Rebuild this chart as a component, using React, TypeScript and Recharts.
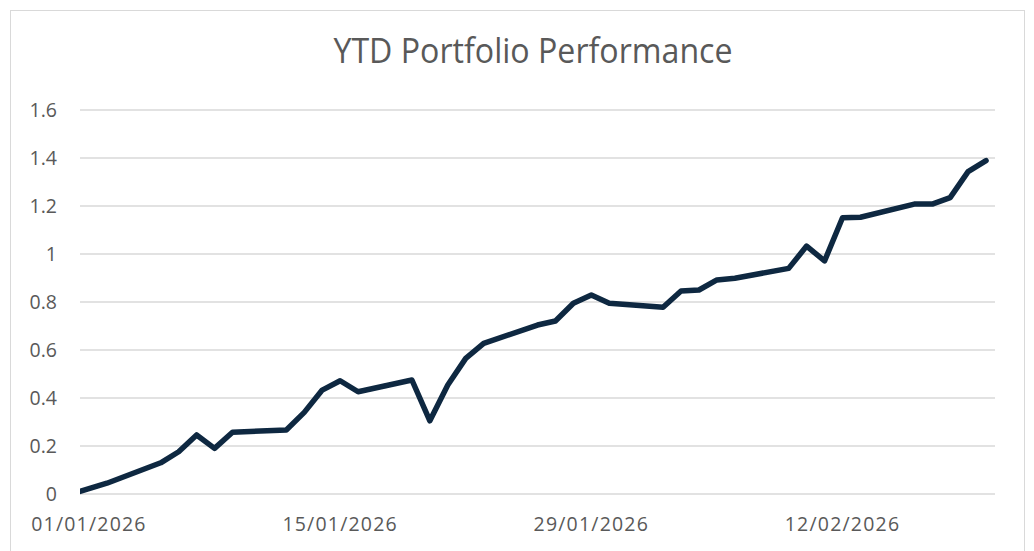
import React from "react";
import {
  LineChart,
  Line,
  XAxis,
  YAxis,
  CartesianGrid,
} from "recharts";

// trading days (Dec 31 is the YTD baseline)
const dates = [
  "2025-12-31", "2026-01-02", "2026-01-05", "2026-01-06", "2026-01-07", "2026-01-08", "2026-01-09",
  "2026-01-12", "2026-01-13", "2026-01-14", "2026-01-15", "2026-01-16",
  "2026-01-19", "2026-01-20", "2026-01-21", "2026-01-22", "2026-01-23",
  "2026-01-26", "2026-01-27", "2026-01-28", "2026-01-29", "2026-01-30",
  "2026-02-02", "2026-02-03", "2026-02-04", "2026-02-05", "2026-02-06",
  "2026-02-09", "2026-02-10", "2026-02-11", "2026-02-12", "2026-02-13",
  "2026-02-16", "2026-02-17", "2026-02-18", "2026-02-19", "2026-02-20",
];

const performance = [
  0, 0.045, 0.13, 0.176, 0.246, 0.19, 0.257,
  0.267, 0.34, 0.433, 0.472, 0.426,
  0.475, 0.305, 0.454, 0.565, 0.628,
  0.704, 0.721, 0.795, 0.829, 0.795,
  0.778, 0.846, 0.85, 0.892, 0.899,
  0.94, 1.033, 0.971, 1.151, 1.153,
  1.208, 1.208, 1.235, 1.343, 1.389,
];

const xTickDates = ["2026-01-01", "2026-01-15", "2026-01-29", "2026-02-12"];
const yTicks = [0, 0.2, 0.4, 0.6, 0.8, 1, 1.2, 1.4, 1.6];

const START = Date.UTC(2026, 0, 1);
const toDay = (s: string) => {
  const [y, m, d] = s.split("-").map(Number);
  return (Date.UTC(y, m - 1, d) - START) / 86400000;
};
const fmtDay = (v: number) => {
  const dt = new Date(START + v * 86400000);
  const dd = String(dt.getUTCDate()).padStart(2, "0");
  const mm = String(dt.getUTCMonth() + 1).padStart(2, "0");
  return `${dd}/${mm}/${dt.getUTCFullYear()}`;
};

const data = dates.map((d, i) => ({ day: toDay(d), value: performance[i] }));

const TEXT = "#595959";
const GRID = "#d9d9d9";
const LINE = "#0E2841";
const FONT = "'Open Sans', sans-serif";

export default function App() {
  return (
    <div
      style={{
        position: "absolute",
        left: 0,
        top: 0,
        width: 1034,
        height: 551,
        overflow: "hidden",
        background: "#fff",
        fontFamily: FONT,
      }}
    >
      {/* chart border */}
      <div
        style={{
          position: "absolute",
          left: 10,
          top: 10,
          width: 1013,
          height: 580,
          border: `1px solid ${GRID}`,
        }}
      />
      <div
        style={{
          position: "absolute",
          left: 0,
          width: 1066,
          top: 26,
          textAlign: "center",
          fontSize: 34,
          color: TEXT,
          lineHeight: "48px",
          transform: "scaleX(0.945)",
          transformOrigin: "533px 0",
        }}
      >
        YTD Portfolio Performance
      </div>
      <div style={{ position: "absolute", left: 0, top: 0 }}>
        <LineChart
          width={1034}
          height={551}
          data={data}
          margin={{ top: 110, right: 39, left: 0, bottom: 27 }}
        >
          <CartesianGrid vertical={false} stroke={GRID} strokeWidth={1.3} />
          <XAxis
            dataKey="day"
            type="number"
            domain={[-0.5, 50.5]}
            allowDataOverflow
            ticks={xTickDates.map(toDay)}
            tickFormatter={fmtDay}
            axisLine={false}
            tickLine={false}
            tickSize={0}
            tickMargin={23}
            height={30}
            tick={{ fill: TEXT, fontSize: 19.5, fontFamily: FONT, letterSpacing: 1.2 }}
          />
          <YAxis
            type="number"
            domain={[0, 1.6]}
            ticks={yTicks}
            interval={0}
            axisLine={false}
            tickLine={false}
            tickSize={0}
            tickMargin={23}
            width={80}
            tick={{ fill: TEXT, fontSize: 19.5, fontFamily: FONT }}
          />
          <Line
            type="linear"
            dataKey="value"
            stroke={LINE}
            strokeWidth={5.5}
            strokeLinejoin="round"
            strokeLinecap="round"
            dot={false}
            activeDot={false}
            isAnimationActive={false}
          />
        </LineChart>
      </div>
    </div>
  );
}
